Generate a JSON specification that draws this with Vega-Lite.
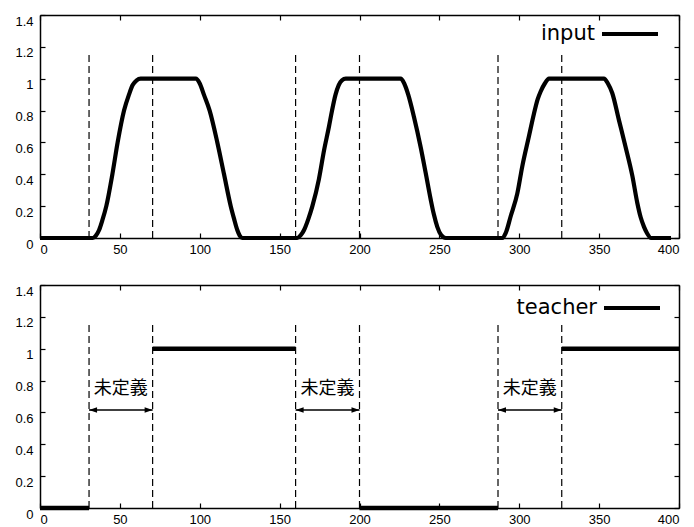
{
  "$schema": "https://vega.github.io/schema/vega-lite/v6.json",
  "padding": {"left": 14, "top": 4, "right": 5, "bottom": 5},
  "spacing": 22,
  "datasets": {
    "input": [
      {"x": 0, "y": 0}, {"x": 33, "y": 0}, {"x": 35, "y": 0.015}, {"x": 37, "y": 0.05}, {"x": 39, "y": 0.11},
      {"x": 41.5, "y": 0.2}, {"x": 45.3, "y": 0.4}, {"x": 48.6, "y": 0.6}, {"x": 52.6, "y": 0.8}, {"x": 55.7, "y": 0.9},
      {"x": 58, "y": 0.96}, {"x": 60.5, "y": 0.99}, {"x": 63, "y": 1}, {"x": 97.5, "y": 1}, {"x": 100, "y": 0.97},
      {"x": 102.6, "y": 0.9}, {"x": 106.2, "y": 0.8}, {"x": 111, "y": 0.6}, {"x": 115.2, "y": 0.4}, {"x": 119.4, "y": 0.2},
      {"x": 121.5, "y": 0.12}, {"x": 123.5, "y": 0.05}, {"x": 125, "y": 0.015}, {"x": 126.6, "y": 0},
      {"x": 161, "y": 0}, {"x": 163, "y": 0.015}, {"x": 165.3, "y": 0.05}, {"x": 168, "y": 0.12}, {"x": 170.5, "y": 0.2},
      {"x": 174.6, "y": 0.37}, {"x": 177.8, "y": 0.55}, {"x": 180.9, "y": 0.7}, {"x": 182.8, "y": 0.8}, {"x": 185, "y": 0.9},
      {"x": 187, "y": 0.96}, {"x": 189, "y": 0.99}, {"x": 191.4, "y": 1}, {"x": 225.8, "y": 1}, {"x": 228, "y": 0.97},
      {"x": 230.5, "y": 0.9}, {"x": 234.1, "y": 0.76}, {"x": 238.3, "y": 0.57}, {"x": 241.4, "y": 0.41}, {"x": 244.6, "y": 0.24},
      {"x": 246.5, "y": 0.15}, {"x": 248.7, "y": 0.07}, {"x": 251, "y": 0.02}, {"x": 254, "y": 0},
      {"x": 289.4, "y": 0}, {"x": 291.5, "y": 0.03}, {"x": 294.6, "y": 0.135}, {"x": 298.8, "y": 0.28}, {"x": 301.9, "y": 0.45},
      {"x": 306.1, "y": 0.64}, {"x": 309.2, "y": 0.78}, {"x": 311.5, "y": 0.87}, {"x": 313.4, "y": 0.92}, {"x": 316, "y": 0.97},
      {"x": 318.6, "y": 1}, {"x": 353, "y": 1}, {"x": 355.5, "y": 0.97}, {"x": 358.2, "y": 0.91}, {"x": 362.4, "y": 0.74},
      {"x": 366.6, "y": 0.57}, {"x": 370.8, "y": 0.39}, {"x": 373.9, "y": 0.22}, {"x": 376, "y": 0.13}, {"x": 378.1, "y": 0.07},
      {"x": 380, "y": 0.03}, {"x": 382.5, "y": 0}, {"x": 395, "y": 0}
    ],
    "teacher": [
      {"seg": "a", "x": 0, "y": 0}, {"seg": "a", "x": 30.7, "y": 0},
      {"seg": "b", "x": 70.5, "y": 1}, {"seg": "b", "x": 160, "y": 1},
      {"seg": "c", "x": 200, "y": 0}, {"seg": "c", "x": 286.7, "y": 0},
      {"seg": "d", "x": 326.6, "y": 1}, {"seg": "d", "x": 400, "y": 1}
    ],
    "bounds": [
      {"x": 30.7}, {"x": 70.5}, {"x": 160}, {"x": 200}, {"x": 286.7}, {"x": 326.6}
    ],
    "undef": [
      {"id": 1, "label": "未定義", "x1": 30.7, "x2": 70.5},
      {"id": 2, "label": "未定義", "x1": 160, "x2": 200},
      {"id": 3, "label": "未定義", "x1": 286.7, "x2": 326.6}
    ]
  },
  "resolve": {"scale": {"color": "independent"}},
  "vconcat": [
    {
      "width": 639,
      "height": 223,
      "layer": [
        {
          "data": {"name": "bounds"},
          "mark": {"type": "rule", "strokeDash": [7, 4], "strokeWidth": 1.2, "color": "black"},
          "encoding": {
            "x": {"field": "x", "type": "quantitative", "scale": {"domain": [0, 400], "nice": false},
                  "axis": {"orient": "top", "labels": false, "values": [0, 50, 100, 150, 200, 250, 300, 350, 400]}},
            "y": {"datum": 0, "type": "quantitative", "scale": {"domain": [0, 1.4], "nice": false},
                  "axis": {"orient": "right", "labels": false, "values": [0, 0.2, 0.4, 0.6, 0.8, 1, 1.2, 1.4]}},
            "y2": {"datum": 1.15}
          }
        },
        {
          "data": {"name": "input"},
          "mark": {"type": "line", "strokeWidth": 4.2, "interpolate": "monotone", "strokeCap": "butt", "strokeJoin": "round"},
          "encoding": {
            "x": {"field": "x", "type": "quantitative", "scale": {"domain": [0, 400], "nice": false},
                  "axis": {"orient": "bottom", "values": [0, 50, 100, 150, 200, 250, 300, 350, 400], "format": "d", "labelPadding": 10}},
            "y": {"field": "y", "type": "quantitative", "scale": {"domain": [0, 1.4], "nice": false},
                  "axis": {"orient": "left", "values": [0, 0.2, 0.4, 0.6, 0.8, 1, 1.2, 1.4], "format": "~g", "labelBaseline": "top", "labelOffset": 0}},
            "color": {"datum": "input", "type": "nominal", "scale": {"range": ["black"]},
                      "legend": {"orient": "none", "legendX": 560, "legendY": -11, "title": null, "symbolType": "stroke",
                                 "symbolSize": 3136, "symbolStrokeWidth": 4, "labelFont": "DejaVu Sans", "labelFontSize": 21,
                                 "labelColor": "black", "labelAlign": "right", "labelOffset": -65, "padding": 0}}
          }
        }
      ],
      "resolve": {"axis": {"x": "independent", "y": "independent"}}
    },
    {
      "width": 639,
      "height": 223,
      "layer": [
        {
          "data": {"name": "bounds"},
          "mark": {"type": "rule", "strokeDash": [7, 4], "strokeWidth": 1.2, "color": "black"},
          "encoding": {
            "x": {"field": "x", "type": "quantitative", "scale": {"domain": [0, 400], "nice": false},
                  "axis": {"orient": "top", "labels": false, "values": [0, 50, 100, 150, 200, 250, 300, 350, 400]}},
            "y": {"datum": 0, "type": "quantitative", "scale": {"domain": [0, 1.4], "nice": false},
                  "axis": {"orient": "right", "labels": false, "values": [0, 0.2, 0.4, 0.6, 0.8, 1, 1.2, 1.4]}},
            "y2": {"datum": 1.16}
          }
        },
        {
          "data": {"name": "teacher"},
          "mark": {"type": "line", "strokeWidth": 4.5, "strokeCap": "butt"},
          "encoding": {
            "x": {"field": "x", "type": "quantitative", "scale": {"domain": [0, 400], "nice": false},
                  "axis": {"orient": "bottom", "values": [0, 50, 100, 150, 200, 250, 300, 350, 400], "format": "d", "labelPadding": 10}},
            "y": {"field": "y", "type": "quantitative", "scale": {"domain": [0, 1.4], "nice": false},
                  "axis": {"orient": "left", "values": [0, 0.2, 0.4, 0.6, 0.8, 1, 1.2, 1.4], "format": "~g", "labelBaseline": "top", "labelOffset": 0}},
            "detail": {"field": "seg"},
            "color": {"datum": "teacher", "type": "nominal", "scale": {"range": ["black"]},
                      "legend": {"orient": "none", "legendX": 562, "legendY": -7, "title": null, "symbolType": "stroke",
                                 "symbolSize": 3136, "symbolStrokeWidth": 4, "labelFont": "DejaVu Sans", "labelFontSize": 21,
                                 "labelColor": "black", "labelAlign": "right", "labelOffset": -65, "padding": 0}}
          }
        },
        {
          "data": {"name": "undef"},
          "mark": {"type": "rule", "strokeWidth": 1.5, "color": "black"},
          "encoding": {
            "x": {"field": "x1", "type": "quantitative", "axis": null},
            "x2": {"field": "x2"},
            "y": {"datum": 0.615, "type": "quantitative", "axis": null}
          }
        },
        {
          "data": {"name": "undef"},
          "mark": {"type": "point", "shape": "M0,0L1,-0.35L1,0.35Z", "filled": true, "size": 256, "color": "black", "opacity": 1},
          "encoding": {
            "x": {"field": "x1", "type": "quantitative", "axis": null},
            "y": {"datum": 0.615, "type": "quantitative", "axis": null}
          }
        },
        {
          "data": {"name": "undef"},
          "mark": {"type": "point", "shape": "M0,0L-1,-0.35L-1,0.35Z", "filled": true, "size": 256, "color": "black", "opacity": 1},
          "encoding": {
            "x": {"field": "x2", "type": "quantitative", "axis": null},
            "y": {"datum": 0.615, "type": "quantitative", "axis": null}
          }
        },
        {
          "data": {"name": "undef"},
          "transform": [
            {"fold": ["x1", "x2"], "as": ["k", "v"]},
            {"aggregate": [{"op": "mean", "field": "v", "as": "mid"}], "groupby": ["id", "label"]}
          ],
          "mark": {"type": "text", "font": "Noto Sans CJK JP", "fontSize": 18, "align": "center", "baseline": "middle", "color": "black"},
          "encoding": {
            "x": {"field": "mid", "type": "quantitative", "axis": null},
            "y": {"datum": 0.745, "type": "quantitative", "axis": null},
            "text": {"field": "label"}
          }
        }
      ],
      "resolve": {"axis": {"x": "independent", "y": "independent"}}
    }
  ],
  "config": {
    "view": {"stroke": null},
    "axis": {
      "domainColor": "black", "domainWidth": 1.5, "tickColor": "black", "tickWidth": 1.2, "tickSize": -5,
      "labelFont": "Liberation Sans", "labelFontSize": 13, "labelColor": "black", "labelPadding": 12,
      "grid": false, "title": null
    }
  }
}
